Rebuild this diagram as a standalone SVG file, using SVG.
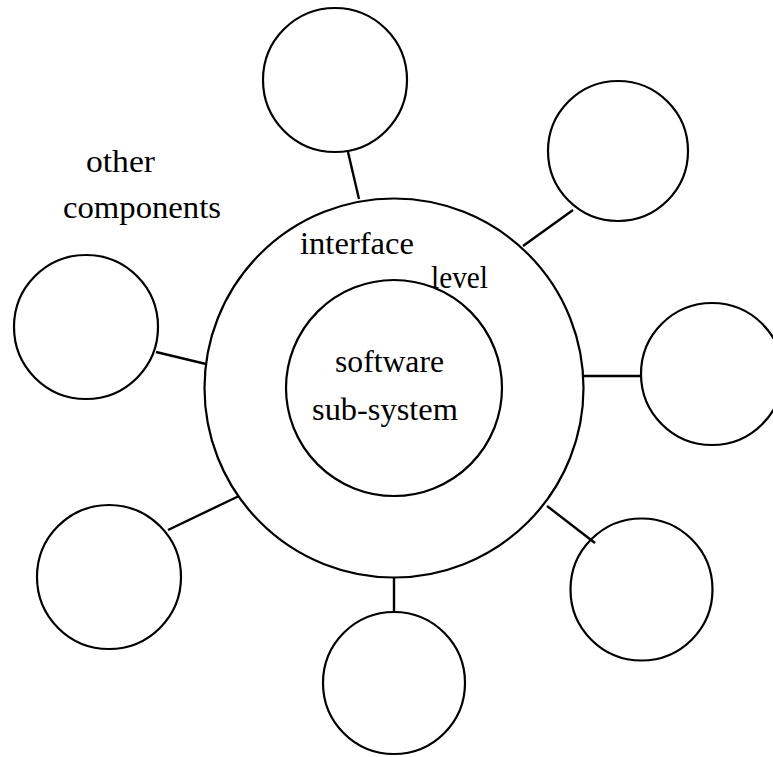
<svg xmlns="http://www.w3.org/2000/svg" width="773" height="757" viewBox="0 0 773 757">
  <style>
    .ring { fill: none; stroke: #000; stroke-width: 2.2; }
    .link { stroke: #000; stroke-width: 2.4; fill: none; }
    .label { font-family: "Liberation Serif", "Times New Roman", serif; font-size: 32px; fill: #000; }
  </style>
  <rect width="773" height="757" fill="#fff"/>

  <!-- connectors from the interface level out to the other components -->
  <g id="connectors">
    <line class="link" x1="348" y1="152" x2="359" y2="199"/>
    <line class="link" x1="573" y1="210" x2="523" y2="246"/>
    <line class="link" x1="583" y1="376" x2="642" y2="376"/>
    <line class="link" x1="156" y1="352" x2="206" y2="364"/>
    <line class="link" x1="168" y1="530" x2="239" y2="496"/>
    <line class="link" x1="394" y1="577" x2="394" y2="612"/>
    <line class="link" x1="547" y1="506" x2="595" y2="543"/>
  </g>

  <!-- interface level ring -->
  <g id="interface-level">
    <circle class="ring" cx="394" cy="388" r="189.5"/>
    <text class="label" x="300" y="254" textLength="114" lengthAdjust="spacingAndGlyphs">interface</text>
    <text class="label" x="431" y="288" textLength="57" lengthAdjust="spacingAndGlyphs">level</text>
  </g>

  <!-- software sub-system core -->
  <g id="software-subsystem">
    <circle class="ring" cx="394" cy="388" r="108"/>
    <text class="label" x="335" y="372" textLength="109" lengthAdjust="spacingAndGlyphs">software</text>
    <text class="label" x="312" y="420" textLength="146" lengthAdjust="spacingAndGlyphs">sub-system</text>
  </g>

  <!-- other components -->
  <g id="components-label">
    <text class="label" x="86" y="172" textLength="69" lengthAdjust="spacingAndGlyphs">other</text>
    <text class="label" x="63" y="218" textLength="158" lengthAdjust="spacingAndGlyphs">components</text>
  </g>
  <g id="component-top"><circle class="ring" cx="335" cy="80" r="72"/></g>
  <g id="component-top-right"><circle class="ring" cx="618" cy="151" r="70"/></g>
  <g id="component-right"><circle class="ring" cx="712" cy="374" r="71"/></g>
  <g id="component-left"><circle class="ring" cx="86" cy="327" r="72"/></g>
  <g id="component-bottom-left"><circle class="ring" cx="109" cy="577" r="72"/></g>
  <g id="component-bottom"><circle class="ring" cx="394" cy="683" r="71"/></g>
  <g id="component-bottom-right"><circle class="ring" cx="641.5" cy="589.5" r="71"/></g>
</svg>
